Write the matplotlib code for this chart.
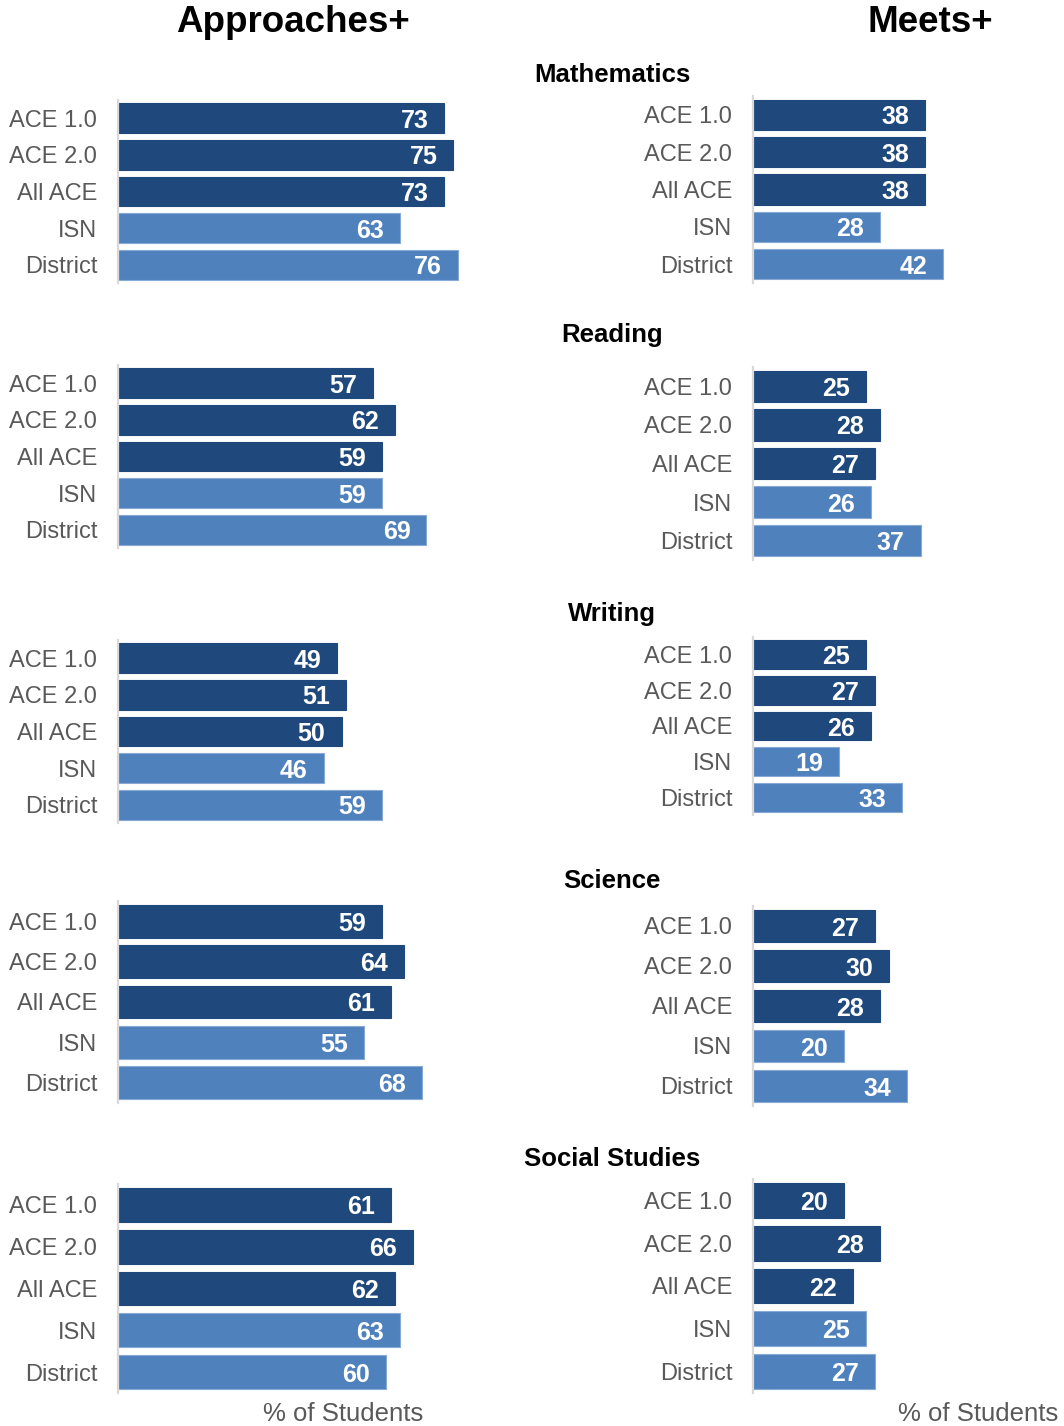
import matplotlib.pyplot as plt

plt.rcParams["font.family"] = ["Liberation Sans", "DejaVu Sans"]

# ---- data -----------------------------------------------------------------
subjects = ["Mathematics", "Reading", "Writing", "Science", "Social Studies"]
groups = ["ACE 1.0", "ACE 2.0", "All ACE", "ISN", "District"]

approaches_math = [73, 75, 73, 63, 76]
approaches_reading = [57, 62, 59, 59, 69]
approaches_writing = [49, 51, 50, 46, 59]
approaches_science = [59, 64, 61, 55, 68]
approaches_social = [61, 66, 62, 63, 60]

meets_math = [38, 38, 38, 28, 42]
meets_reading = [25, 28, 27, 26, 37]
meets_writing = [25, 27, 26, 19, 33]
meets_science = [27, 30, 28, 20, 34]
meets_social = [20, 28, 22, 25, 27]

approaches = [approaches_math, approaches_reading, approaches_writing,
              approaches_science, approaches_social]
meets = [meets_math, meets_reading, meets_writing, meets_science, meets_social]

# ---- styling / layout (pixel units) ---------------------------------------
W, H = 1064, 1426
DARK = "#1f497d"
LIGHT = "#4f81bd"
bar_colors = [DARK, DARK, DARK, LIGHT, LIGHT]
LABEL_GREY = "#595959"
SPINE_GREY = "#d9d9d9"

# (top, bottom) of each panel's plotting area
left_rows = [(100, 283), (365, 548), (640, 823), (901, 1103), (1184, 1393)]
right_rows = [(96, 283), (367, 560), (637, 815), (906, 1106), (1179, 1393)]
title_y = [75, 335, 614, 881, 1159]

LEFT_X0, LEFT_W, LEFT_SCALE = 118, 440, 4.47
RIGHT_X0, RIGHT_W, RIGHT_SCALE = 753, 300, 4.53


def px_axes(fig, x0, width, top, bottom):
    return fig.add_axes([x0 / W, 1 - bottom / H, width / W, (bottom - top) / H])


def draw_panel(ax, values, scale, width):
    ypos = list(range(len(values)))
    for y, v, c in zip(ypos, values, bar_colors):
        ec = "#86a9d6" if c == LIGHT else c
        ax.barh(y, v, height=0.81, color=c, edgecolor=ec, linewidth=0.8)
        ax.annotate(str(v), xy=(v, y), xytext=(-11.5, 0),
                    textcoords="offset points", ha="right", va="center_baseline",
                    color="white", fontweight="bold", fontsize=18)
    ax.set_ylim(len(values) - 0.5, -0.5)
    ax.set_xlim(0, width / scale)
    ax.set_yticks(ypos)
    ax.set_yticklabels(groups, fontsize=17, color=LABEL_GREY)
    ax.set_xticks([])
    ax.tick_params(axis="y", length=0, pad=15)
    for side in ["top", "right", "bottom"]:
        ax.spines[side].set_visible(False)
    ax.spines["left"].set_color(SPINE_GREY)
    ax.spines["left"].set_linewidth(1.6)
    ax.patch.set_visible(False)


fig = plt.figure(figsize=(W / 100, H / 100), dpi=100)

for i in range(len(subjects)):
    t, b = left_rows[i]
    ax_l = px_axes(fig, LEFT_X0, LEFT_W, t, b)
    draw_panel(ax_l, approaches[i], LEFT_SCALE, LEFT_W)

    t, b = right_rows[i]
    ax_r = px_axes(fig, RIGHT_X0, RIGHT_W, t, b)
    draw_panel(ax_r, meets[i], RIGHT_SCALE, RIGHT_W)

    fig.text(612 / W, 1 - title_y[i] / H, subjects[i], ha="center", va="center",
             fontsize=18.5, fontweight="bold", color="black")

# column headers
fig.text(293 / W, 1 - 22 / H, "Approaches+", ha="center", va="center",
         fontsize=26.5, fontweight="bold", color="black")
fig.text(930 / W, 1 - 22 / H, "Meets+", ha="center", va="center",
         fontsize=26.5, fontweight="bold", color="black")

# x-axis captions
fig.text(343 / W, 1 - 1414 / H, "% of Students", ha="center", va="center",
         fontsize=18.5, color=LABEL_GREY)
fig.text(978 / W, 1 - 1414 / H, "% of Students", ha="center", va="center",
         fontsize=18.5, color=LABEL_GREY)

fig.savefig("out.png", dpi=100, facecolor="white")
